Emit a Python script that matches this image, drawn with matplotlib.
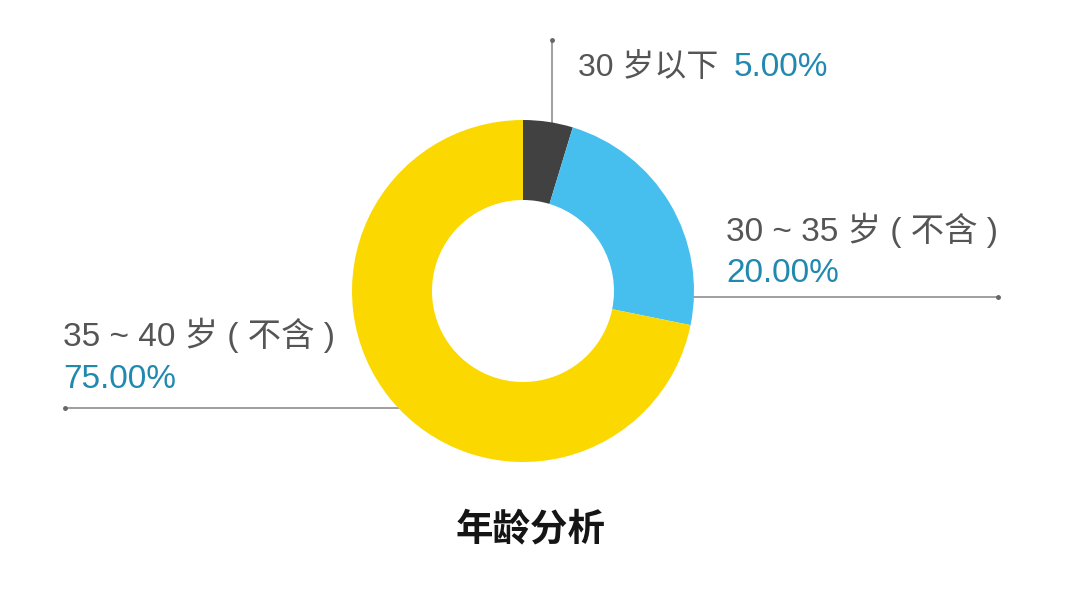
import numpy as np
import matplotlib.pyplot as plt

plt.rcParams['font.family'] = ['Liberation Sans', 'Noto Sans CJK SC', 'DejaVu Sans']

# data
labels = ['30 岁以下', '30 ~ 35 岁 ( 不含 )', '35 ~ 40 岁 ( 不含 )']
pct_text = ['5.00%', '20.00%', '75.00%']
# slice sizes as drawn in the picture (the arcs are not exactly 5/20/75)
arc_values = [4.7, 23.5, 71.8]
colors = ['#414141', '#46BFEF', '#FBD800']
title = '年龄分析'

W, H = 1080, 608
fig = plt.figure(figsize=(W / 100, H / 100), dpi=100)
ax = fig.add_axes([0, 0, 1, 1])

# donut, pixel units (y measured from bottom)
cx, cy = 523, H - 291
R, ring = 171, 80
ax.pie(arc_values, colors=colors, startangle=90, counterclock=False,
       center=(cx, cy), radius=R, wedgeprops=dict(width=ring, linewidth=0),
       frame=True)
ax.set_xlim(0, W)
ax.set_ylim(0, H)
ax.set_aspect('equal')
ax.axis('off')

line_col = '#858585'
grey = '#555555'
teal = '#2189B0'

def edge_x(y, side):
    return cx + side * np.sqrt(max(R ** 2 - (y - cy) ** 2, 0))

def edge_y(x):
    return cy + np.sqrt(max(R ** 2 - (x - cx) ** 2, 0))

# leader lines
lx, ly0 = 552, H - 40
ax.plot([lx, lx], [ly0, edge_y(lx) - 2], color=line_col, lw=1.1, zorder=0)
ax.plot(lx, ly0, 'o', ms=2.5, color='#666666')

ry = H - 297
ax.plot([edge_x(ry, 1) - 3, 998], [ry, ry], color=line_col, lw=1.1, zorder=0)
ax.plot(998, ry, 'o', ms=2.5, color='#666666')

yy = H - 408
ax.plot([65, edge_x(yy, -1) + 3], [yy, yy], color=line_col, lw=1.1, zorder=0)
ax.plot(65, yy, 'o', ms=2.5, color='#666666')

fs = 24
ax.text(578, H - 76, labels[0], color=grey, fontsize=23, va='baseline', ha='left')
ax.text(734, H - 76, pct_text[0], color=teal, fontsize=fs, va='baseline', ha='left')

ax.text(726, H - 241, labels[1], color=grey, fontsize=fs, va='baseline', ha='left')
ax.text(726, H - 282, pct_text[1], color=teal, fontsize=fs, va='baseline', ha='left')

ax.text(63, H - 346, labels[2], color=grey, fontsize=fs, va='baseline', ha='left')
ax.text(63, H - 388, pct_text[2], color=teal, fontsize=fs, va='baseline', ha='left')

ax.text(531, H - 529, title, color='#151515', fontsize=27, fontweight='bold',
        family='Noto Sans CJK SC', va='center', ha='center')

fig.savefig('out.png', dpi=100, facecolor='white')
